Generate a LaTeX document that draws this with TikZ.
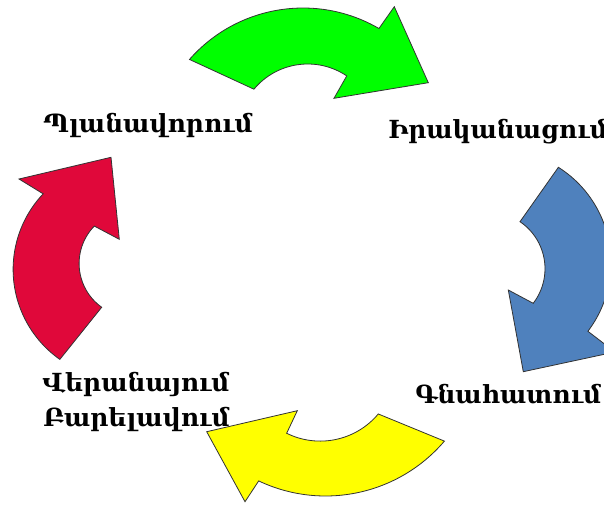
\documentclass[tikz,border=0pt]{standalone}
\usepackage{fontspec}
\setmainfont{DejaVu Serif}
\usetikzlibrary{calc}
\definecolor{arrgreen}{RGB}{0,255,0}
\definecolor{arrblue}{RGB}{79,129,189}
\definecolor{arrred}{RGB}{224,8,58}
\definecolor{arryellow}{RGB}{255,255,0}
\tikzset{
  cyclearrow/.style={draw=black!80, line width=0.6pt, line join=miter},
  stagetext/.style={font=\bfseries\fontsize{18.7}{22}\selectfont, anchor=base west, inner sep=0pt}
}
\begin{document}
\begin{tikzpicture}[x=0.75pt, y=-0.75pt]
\useasboundingbox (0,0) rectangle (604,504);
\clip (0,0) rectangle (604,504);
% green, top
\draw[cyclearrow, fill=arrgreen] ($(303,159)+(221.25:151)$) arc[start angle=221.25, end angle=300.2, radius=151]
  -- (394.3,6.7) -- (428.3,82.7) -- (334,98.3)
  -- ($(307.7,134)+(303.9:70)$) arc[start angle=303.9, end angle=219.8, radius=70] -- cycle;
% blue, right
\draw[cyclearrow, fill=arrblue] ($(498,262.8)+(-57.7:113)$) arc[start angle=-57.7, end angle=37.3, radius=113]
  -- (615,352) -- (523.3,371.7) -- (508.3,290)
  -- ($(488.3,268.7)+(37.6:56.7)$) arc[start angle=37.6, end angle=-56, radius=56.7] -- cycle;
% yellow, bottom
\draw[cyclearrow, fill=arryellow] ($(325.6,340)+(40.4:156)$) arc[start angle=40.4, end angle=115.4, radius=156]
  -- (245,501.7) -- (206.7,431.7) -- (297.3,410.7)
  -- ($(320.2,365.4)+(116.3:75.7)$) arc[start angle=116.3, end angle=39.9, radius=75.7] -- cycle;
% red, left
\draw[cyclearrow, fill=arrred] ($(123.1,269.4)+(125.1:110)$) arc[start angle=125.1, end angle=223.4, radius=110]
  -- (19,179) -- (111,157.3) -- (119.3,239.3)
  -- ($(132.8,263.5)+(224.2:53.7)$) arc[start angle=224.2, end angle=125.4, radius=53.7] -- cycle;
% stages
\node[stagetext] (plan) at (43,132) {Պլանավորում};
\node[stagetext] (impl) at (388,138) {Իրականացում};
\node[stagetext] (eval) at (415,403) {Գնահատում};
\node[stagetext] (review) at (42,391.7) {Վերանայում};
\node[stagetext] (improve) at (43,426.7) {Բարելավում};
\end{tikzpicture}
\end{document}
